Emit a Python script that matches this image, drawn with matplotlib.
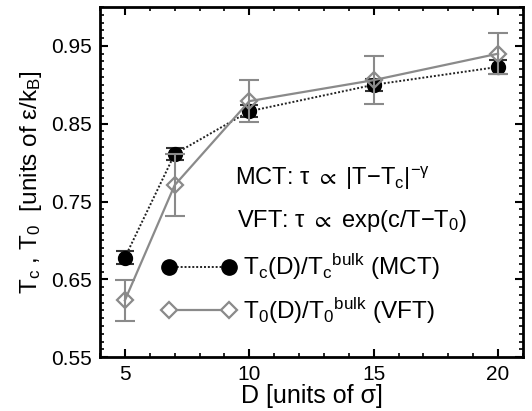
import numpy as np
import matplotlib
matplotlib.use('Agg')
import matplotlib.pyplot as plt
from matplotlib.ticker import MultipleLocator

plt.rcParams['font.family'] = ['Liberation Sans', 'DejaVu Sans']
plt.rcParams['mathtext.fontset'] = 'custom'
plt.rcParams['mathtext.rm'] = 'Liberation Sans'
plt.rcParams['mathtext.it'] = 'Liberation Sans:italic'
plt.rcParams['mathtext.fallback'] = 'stixsans'

################### Data
D = [5, 7, 10, 15, 20]
tc_mct = [0.678, 0.811, 0.866, 0.900, 0.923]
tc_err = [0.008, 0.008, 0.008, 0.008, 0.009]
t0_vft = [0.623, 0.771, 0.879, 0.906, 0.940]
t0_err = [0.026, 0.040, 0.027, 0.031, 0.026]

gray = '#8a8a8a'

fig = plt.figure(figsize=(5.32, 4.11), dpi=100)
ax = fig.add_axes([0.188, 0.131, 0.795, 0.852])

################### MCT (black circles, dotted)
ax.errorbar(D, tc_mct, yerr=tc_err, fmt='o', color='black', ms=10,
            ecolor='#333333', elinewidth=1.5, capsize=6.5, capthick=1.5, zorder=3)
ax.plot(D, tc_mct, linestyle=(0, (1, 1)), color='#222222', lw=1.4, zorder=2)

################### VFT (gray diamonds, solid)
ax.errorbar(D, t0_vft, yerr=t0_err, fmt='none', ecolor=gray,
            elinewidth=1.5, capsize=7, capthick=1.5, zorder=4)
ax.plot(D, t0_vft, '-', color=gray, lw=1.6, marker='D', ms=8,
        mfc='none', mec=gray, mew=1.6, zorder=5)

# legend handles
h1, = ax.plot([], [], linestyle=(0, (1, 1)), color='#222222', lw=1.4,
              marker='o', ms=11, mfc='black', mec='black')
h2, = ax.plot([], [], '-', color=gray, lw=1.6, marker='D', ms=8,
              mfc='white', mec=gray, mew=1.6)
ax.legend([h1, h2],
          ['T$_\\mathrm{c}$(D)/T$_\\mathrm{c}$$^\\mathrm{bulk}$ (MCT)',
           'T$_\\mathrm{0}$(D)/T$_\\mathrm{0}$$^\\mathrm{bulk}$ (VFT)'],
          loc='upper left', bbox_to_anchor=(0.145, 0.30), frameon=False,
          fontsize=17.5, numpoints=2, handlelength=3.1, handletextpad=0.25,
          labelspacing=0.55, borderpad=0, borderaxespad=0)

ax.text(0.318, 0.51, 'MCT: τ $\\propto$ |T$-$T$_\\mathrm{c}$|$^{\\mathrm{-γ}}$',
        transform=ax.transAxes, fontsize=17, va='center')
ax.text(0.325, 0.39, 'VFT: τ $\\propto$ exp(c/T$-$T$_\\mathrm{0}$)',
        transform=ax.transAxes, fontsize=17, va='center')

################### Axes
ax.set_xlim(4, 21)
ax.set_ylim(0.55, 1.0)
ax.set_xticks([5, 10, 15, 20])
ax.set_yticks([0.55, 0.65, 0.75, 0.85, 0.95])
ax.set_yticklabels(['0.55', '0.65', '0.75', '0.85', '0.95'])
ax.xaxis.set_minor_locator(MultipleLocator(1))
ax.yaxis.set_minor_locator(MultipleLocator(0.01))
ax.tick_params(which='both', direction='in', top=True, right=True, labelsize=15)
ax.tick_params(which='major', length=6, width=1.5, pad=6)
ax.tick_params(which='minor', length=3, width=1.2)
for s in ax.spines.values():
    s.set_linewidth(2)

ax.set_xlabel('D [units of σ]', fontsize=18, labelpad=0)
ax.set_ylabel('T$_\\mathrm{c}$ , T$_\\mathrm{0}$  [units of ε/k$_\\mathrm{B}$]',
              fontsize=17.5, labelpad=5)

fig.savefig('out.png', dpi=100)
